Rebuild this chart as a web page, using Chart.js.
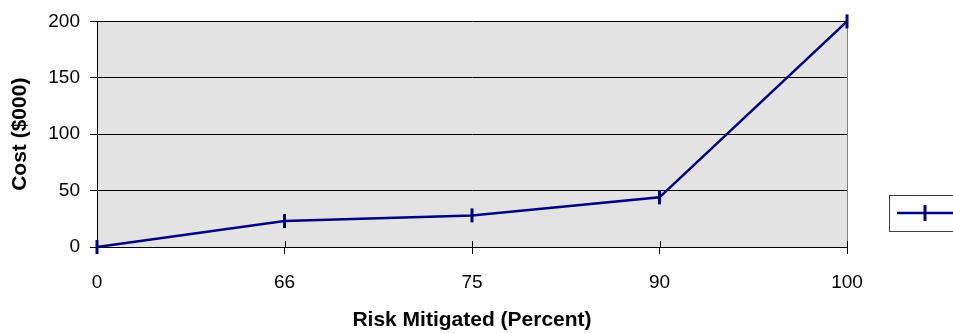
<!DOCTYPE html>
<html>
<head>
<meta charset="utf-8">
<script src="https://cdn.jsdelivr.net/npm/chart.js@4"></script>
<style>
  html, body { margin: 0; padding: 0; background: #fff; }
  #wrap { width: 953px; height: 333px; }
</style>
</head>
<body>
<div id="wrap"><canvas id="chartLine"></canvas></div>
<script>
// data
const riskLabels = ['0', '66', '75', '90', '100'];
const costValues = [0, 23, 28, 44, 200];
const costTicks = [0, 50, 100, 150, 200];

const navy = '#000080';

// grey plot background + grey right border
const plotBg = {
    id: 'plotBg',
    beforeDraw(chart) {
        const { ctx, chartArea: a } = chart;
        ctx.save();
        ctx.fillStyle = '#E3E3E3';
        ctx.fillRect(a.left, a.top, a.right - a.left, a.bottom - a.top);
        ctx.restore();
    },
    beforeDatasetsDraw(chart) {
        const { ctx, chartArea: a, scales } = chart;
        ctx.save();
        ctx.strokeStyle = '#808080';
        ctx.lineWidth = 1;
        ctx.beginPath();
        ctx.moveTo(a.right + 0.5, a.top);
        ctx.lineTo(a.right + 0.5, a.bottom);
        ctx.stroke();
        // x ticks also cross into the plot
        ctx.strokeStyle = '#000';
        const x = scales.x;
        x.ticks.forEach((t, i) => {
            const px = Math.round(x.getPixelForTick(i)) + 0.5;
            ctx.beginPath();
            ctx.moveTo(px, a.bottom - 6);
            ctx.lineTo(px, a.bottom);
            ctx.stroke();
        });
        ctx.restore();
    }
};

// legend box on the right (text runs off the canvas)
const sideLegend = {
    id: 'sideLegend',
    afterDraw(chart) {
        const { ctx } = chart;
        ctx.save();
        ctx.strokeStyle = '#404040';
        ctx.lineWidth = 1;
        ctx.strokeRect(889.5, 195.5, 80, 36);
        ctx.strokeStyle = navy;
        ctx.lineWidth = 2.5;
        ctx.beginPath();
        ctx.moveTo(897, 213);
        ctx.lineTo(953, 213);
        ctx.stroke();
        ctx.lineWidth = 3;
        ctx.beginPath();
        ctx.moveTo(925, 205);
        ctx.lineTo(925, 221);
        ctx.stroke();
        ctx.restore();
    }
};

new Chart(document.getElementById('chartLine').getContext('2d'), {
    type: 'line',
    data: {
        labels: riskLabels,
        datasets: [{
            label: '',
            data: costValues,
            borderColor: navy,
            backgroundColor: navy,
            borderWidth: 2.5,
            tension: 0,
            fill: false,
            clip: false,
            pointStyle: 'line',
            rotation: 90,
            pointRadius: 7,
            pointHoverRadius: 7,
            pointBorderWidth: 3,
            pointBorderColor: navy
        }]
    },
    options: {
        responsive: true,
        maintainAspectRatio: false,
        animation: false,
        events: [],
        layout: { padding: { left: 0, right: 106, top: 20, bottom: 0 } },
        plugins: {
            legend: { display: false },
            tooltip: { enabled: false }
        },
        scales: {
            x: {
                offset: false,
                grid: {
                    display: true,
                    drawOnChartArea: false,
                    drawTicks: true,
                    tickLength: 7,
                    color: '#000'
                },
                border: { color: '#000', width: 1 },
                ticks: {
                    color: '#000',
                    padding: 17,
                    maxRotation: 0,
                    font: { family: 'Liberation Sans, Arial', size: 19 }
                },
                title: {
                    display: true,
                    text: 'Risk Mitigated (Percent)',
                    color: '#000',
                    padding: { top: 4, bottom: 0 },
                    font: { family: 'Liberation Sans, Arial', size: 21, weight: 'bold' }
                },
                afterFit(s) { s.height = 86; }
            },
            y: {
                min: 0,
                max: 200,
                afterBuildTicks(s) { s.ticks = costTicks.map(v => ({ value: v })); },
                grid: {
                    color: '#000',
                    lineWidth: 1,
                    drawTicks: true,
                    tickLength: 7
                },
                border: { color: '#000', width: 1 },
                ticks: {
                    color: '#000',
                    padding: 10,
                    font: { family: 'Liberation Sans, Arial', size: 19 }
                },
                title: {
                    display: true,
                    text: 'Cost ($000)',
                    color: '#000',
                    padding: { top: 8, bottom: 4 },
                    font: { family: 'Liberation Sans, Arial', size: 21, weight: 'bold' }
                },
                afterFit(s) { s.width = 97; }
            }
        }
    },
    plugins: [plotBg, sideLegend]
});
</script>
</body>
</html>
